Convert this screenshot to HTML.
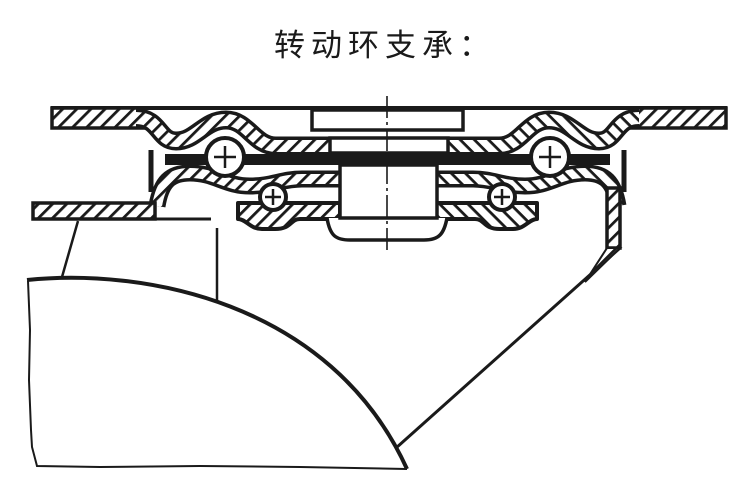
<!DOCTYPE html>
<html><head><meta charset="utf-8"><style>
html,body{margin:0;padding:0;background:#fff;width:750px;height:497px;overflow:hidden}
</style></head><body>
<svg width="750" height="497" viewBox="0 0 750 497" xmlns="http://www.w3.org/2000/svg">
<defs>
<pattern id="h" patternUnits="userSpaceOnUse" width="10" height="10" patternTransform="rotate(45)">
<rect width="10" height="10" fill="#fff"/><rect x="0" y="0" width="2.8" height="10" fill="#1a1a1a"/>
</pattern>
<g id="half" fill="none" stroke-linejoin="round">
 <path d="M136,118 C160,118 158,141 176,141 C196,141 204,120 226,120 C248,120 254,146 276,146 L332,146" stroke="#1a1a1a" stroke-width="19"/>
 <path d="M136,118 C160,118 158,141 176,141 C196,141 204,120 226,120 C248,120 254,146 276,146 L329,146" stroke="url(#h)" stroke-width="12"/>
 <path d="M157,206 C161,182 170,173 190,173 C215,173 225,186 250,186 C272,186 282,179 302,179 L342,179" stroke="#1a1a1a" stroke-width="17"/>
 <path d="M157,206 C161,182 170,173 190,173 C215,173 225,186 250,186 C272,186 282,179 302,179 L339,179" stroke="url(#h)" stroke-width="10"/>
 <path d="M151,150 V192" stroke="#1a1a1a" stroke-width="5"/>
 <path d="M238,203 H340 V219 H300 C290,219 292,229 275,229 H262 C250,229 246,219 238,219 Z" fill="url(#h)" stroke="#1a1a1a" stroke-width="4"/>
 <circle cx="225" cy="157" r="19" fill="#fff" stroke="#1a1a1a" stroke-width="4"/>
 <path d="M214,157 H236 M225,146 V168" stroke="#1a1a1a" stroke-width="2.5"/>
 <circle cx="273" cy="197" r="13" fill="#fff" stroke="#1a1a1a" stroke-width="4"/>
 <path d="M265,197 H281 M273,189 V205" stroke="#1a1a1a" stroke-width="2.5"/>
</g>
</defs>

<text x="385" y="56" text-anchor="middle" font-family="'Liberation Sans','Noto Sans CJK SC',sans-serif" font-size="31" letter-spacing="6" fill="#1a1a1a">转动环支承：</text>

<rect x="51" y="106" width="676" height="4" fill="#1a1a1a"/>
<rect x="52" y="108" width="92" height="20" fill="url(#h)" stroke="#1a1a1a" stroke-width="3.5"/>
<rect x="631" y="108" width="95" height="20" fill="url(#h)" stroke="#1a1a1a" stroke-width="3.5"/>

<rect x="165" y="154" width="445" height="11" fill="#1a1a1a"/>

<use href="#half"/>
<use href="#half" transform="translate(775,0) scale(-1,1)"/>

<rect x="33" y="203" width="122" height="16" fill="url(#h)" stroke="#1a1a1a" stroke-width="3.5"/>
<path d="M150,219 H211" stroke="#1a1a1a" stroke-width="3"/>

<rect x="607" y="188" width="13" height="60" fill="url(#h)" stroke="#1a1a1a" stroke-width="3.5"/>
<path d="M620,248 L396,448" stroke="#1a1a1a" stroke-width="3" fill="none"/>
<path d="M607,248 L620,248 L585,282 Z" fill="url(#h)" stroke="#1a1a1a" stroke-width="2"/>

<g fill="#fff" stroke="#1a1a1a" stroke-width="3.5">
<rect x="312" y="110" width="151" height="20"/>
<rect x="330" y="138" width="118" height="15"/>
<path d="M327,218 C330,236 336,240 350,240 H424 C439,240 444,234 447,218"/>
<rect x="340" y="165" width="97" height="53"/>
</g>
<path d="M387,96 V252" stroke="#1a1a1a" stroke-width="1.6" stroke-dasharray="22,4,3,4" fill="none"/>

<path d="M78,221 L62,277 M217,228 V302" stroke="#1a1a1a" stroke-width="2.5" fill="none"/>

<path d="M27,280 C140,268 330,300 407,469" stroke="#1a1a1a" stroke-width="4" fill="none"/>
<path d="M28,281 L30,330 L29,380 L31,430 L32,447 L37,466 L100,467 L200,466 L300,467 L407,469" stroke="#1a1a1a" stroke-width="2" fill="none"/>
</svg>
</body></html>
